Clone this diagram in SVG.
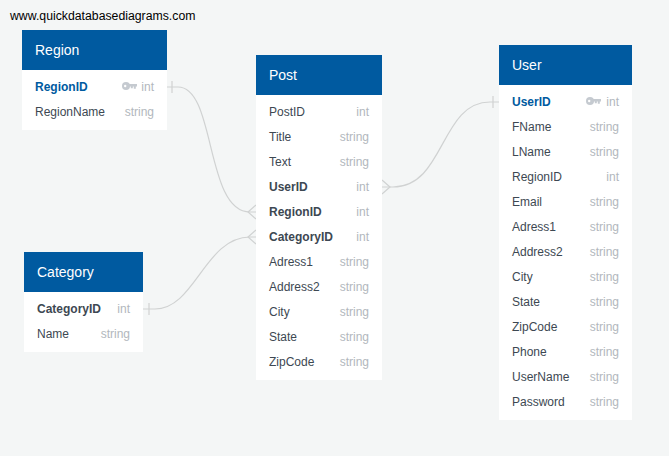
<svg xmlns="http://www.w3.org/2000/svg" width="669" height="456" viewBox="0 0 669 456">
<style>
text{font-family:"Liberation Sans",Arial,sans-serif;font-size:12px;fill:#3d4852}
.b{fill:#fff}.h{fill:#005aa0}
.t{font-size:14px;fill:#fff}
.y{fill:#b2b7bd;text-anchor:end}
.f{font-weight:700}.p{font-weight:700;fill:#005aa0}
.c{fill:none;stroke:#d0d2d2;stroke-width:1.2}
.k{fill:#c5cad0}
</style>
<defs><g id="key"><circle cx="4" cy="0" r="4" class="k"/><circle cx="3.2" cy="0" r="1.2" fill="#fff"/><path d="M6 -2H15V0.6H13.8V2.8H11.8V0.6H10.8V2.2H8.8V0.6H6Z" class="k"/></g></defs>
<rect width="669" height="456" fill="#f4f6f6"/>
<text x="10" y="20" style="fill:#000;font-size:12.27px">www.quickdatabasediagrams.com</text>
<g id="connectors">
<path class="c" d="M167 87H178C216 87 205 212 250 212H256"/>
<path d="M172 81V93" class="c"/>
<path d="M256 205L248 212L256 219" class="c"/>
<path class="c" d="M143 309H155C195 309 205 237 250 237H256"/>
<path d="M149 303V315" class="c"/>
<path d="M256 230L248 237L256 244" class="c"/>
<path class="c" d="M382 187H393C445 187 440 102 490 102H499"/>
<path d="M493 96V108" class="c"/>
<path d="M382 180L390 187L382 194" class="c"/>
</g>
<g id="region">
<rect x="22" y="70" width="145" height="60" class="b"/><rect x="22" y="30" width="145" height="40" class="h"/>
<text x="35" y="55" class="t">Region</text>
<text x="35" y="91" class="p">RegionID</text><use href="#key" x="122" y="86"/><text x="154" y="91" class="y">int</text>
<text x="35" y="116">RegionName</text><text x="154" y="116" class="y">string</text>
</g>
<g id="category">
<rect x="24" y="292" width="119" height="60" class="b"/><rect x="24" y="252" width="119" height="40" class="h"/>
<text x="37" y="277" class="t">Category</text>
<text x="37" y="313" class="f">CategoryID</text><text x="130" y="313" class="y">int</text>
<text x="37" y="338">Name</text><text x="130" y="338" class="y">string</text>
</g>
<g id="post">
<rect x="256" y="95" width="126" height="285" class="b"/><rect x="256" y="55" width="126" height="40" class="h"/>
<text x="269" y="80" class="t">Post</text>
<text x="269" y="116">PostID</text><text x="369" y="116" class="y">int</text>
<text x="269" y="141">Title</text><text x="369" y="141" class="y">string</text>
<text x="269" y="166">Text</text><text x="369" y="166" class="y">string</text>
<text x="269" y="191" class="f">UserID</text><text x="369" y="191" class="y">int</text>
<text x="269" y="216" class="f">RegionID</text><text x="369" y="216" class="y">int</text>
<text x="269" y="241" class="f">CategoryID</text><text x="369" y="241" class="y">int</text>
<text x="269" y="266">Adress1</text><text x="369" y="266" class="y">string</text>
<text x="269" y="291">Address2</text><text x="369" y="291" class="y">string</text>
<text x="269" y="316">City</text><text x="369" y="316" class="y">string</text>
<text x="269" y="341">State</text><text x="369" y="341" class="y">string</text>
<text x="269" y="366">ZipCode</text><text x="369" y="366" class="y">string</text>
</g>
<g id="user">
<rect x="499" y="85" width="133" height="335" class="b"/><rect x="499" y="45" width="133" height="40" class="h"/>
<text x="512" y="70" class="t">User</text>
<text x="512" y="106" class="p">UserID</text><use href="#key" x="586" y="101"/><text x="619" y="106" class="y">int</text>
<text x="512" y="131">FName</text><text x="619" y="131" class="y">string</text>
<text x="512" y="156">LName</text><text x="619" y="156" class="y">string</text>
<text x="512" y="181">RegionID</text><text x="619" y="181" class="y">int</text>
<text x="512" y="206">Email</text><text x="619" y="206" class="y">string</text>
<text x="512" y="231">Adress1</text><text x="619" y="231" class="y">string</text>
<text x="512" y="256">Address2</text><text x="619" y="256" class="y">string</text>
<text x="512" y="281">City</text><text x="619" y="281" class="y">string</text>
<text x="512" y="306">State</text><text x="619" y="306" class="y">string</text>
<text x="512" y="331">ZipCode</text><text x="619" y="331" class="y">string</text>
<text x="512" y="356">Phone</text><text x="619" y="356" class="y">string</text>
<text x="512" y="381">UserName</text><text x="619" y="381" class="y">string</text>
<text x="512" y="406">Password</text><text x="619" y="406" class="y">string</text>
</g>
</svg>
